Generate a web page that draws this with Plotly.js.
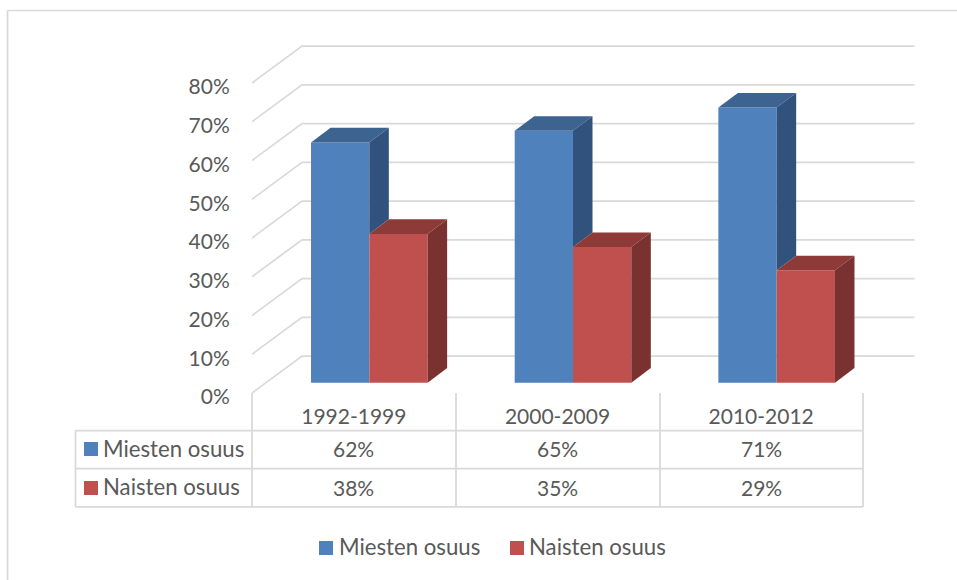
<!DOCTYPE html>
<html>
<head>
<meta charset="utf-8">
<script src="https://cdn.plot.ly/plotly-3.0.1.min.js"></script>
<style>html,body{margin:0;padding:0;background:#fff;overflow:hidden}</style>
</head>
<body>
<div id="chart" style="width:957px;height:580px"></div>
<script>
// ---- data ----
const categories = ['1992-1999', '2000-2009', '2010-2012'];
const seriesNames = ['Miesten osuus', 'Naisten osuus'];
const miesten = [62, 65, 71];
const naisten = [38.4, 35, 29];
const yTicks = [0, 10, 20, 30, 40, 50, 60, 70, 80];

// ---- styles ----
const BLUE = '#4F81BD', BLUE_SIDE = '#31527C', BLUE_TOP = '#3D6390';
const RED = '#C0504D', RED_SIDE = '#7A3230', RED_TOP = '#8E3A38';
const GRID = '#D9D9D9', TEXT = '#595959';
const FONT = {family: 'Lato, "Open Sans", sans-serif', size: 21, color: TEXT};
const NAME_FONT = {family: 'Lato, "Open Sans", sans-serif', size: 22.2, color: TEXT};

// ---- geometry (pixel frame of the plot area) ----
const L = 252, R = 917, T = 40, B = 393, W = 957, H = 580;
const pxPerCat = 203.67, pxPerPct = 3.875;
const cx = v => v / pxPerCat, cy = v => v / pxPerPct;
const xMax = (R - L) / pxPerCat, yMax = (B - T) / pxPerPct;
const px = x => (x - L) / (R - L), py = y => 1 - (y - T) / (B - T);

const wallX = cx(50), wallY = cy(37);       // back wall offset
const depthX = cx(19.5), depthY = cy(14.7); // bar depth
const barW = cx(58.3), barShiftX = cx(15.5), barLift = cy(10.3);

const leftOf = i => i + 0.5 + barShiftX - barW;
const midOf = i => i + 0.5 + barShiftX;
const rightOf = i => i + 0.5 + barShiftX + barW;

// ---- front faces: real bars ----
const frontBar = (name, vals, xFn, color) => ({
  type: 'bar', name, x: vals.map((_, i) => xFn(i)), y: vals,
  base: vals.map(() => barLift), width: vals.map(() => barW),
  marker: {color, line: {width: 0}}, showlegend: false,
  hovertemplate: name + ': %{y}%<extra></extra>'
});

// ---- side and top faces: polygons computed from the values ----
const poly = (xs, ys, color) => ({
  type: 'scatter', mode: 'lines', x: xs, y: ys, fill: 'toself', fillcolor: color,
  line: {width: 0, color}, hoverinfo: 'skip', showlegend: false
});
const faces = [];
categories.forEach((_, i) => {
  const m = miesten[i] + barLift, n = naisten[i] + barLift;
  const xl = leftOf(i), xm = midOf(i), xr = rightOf(i);
  faces.push(poly([xl, xl + depthX, xm + depthX, xm, xl], [m, m + depthY, m + depthY, m, m], BLUE_TOP));
  faces.push(poly([xm, xm + depthX, xm + depthX, xm, xm], [m, m + depthY, n + depthY, n, m], BLUE_SIDE));
  faces.push(poly([xm, xm + depthX, xr + depthX, xr, xm], [n, n + depthY, n + depthY, n, n], RED_TOP));
  faces.push(poly([xr, xr + depthX, xr + depthX, xr, xr], [n, n + depthY, barLift + depthY, barLift, n], RED_SIDE));
});

// ---- layout shapes ----
const shapes = [];
const line = (x0, y0, x1, y1, w) => shapes.push({
  type: 'line', xref: 'paper', yref: 'paper', x0: px(x0), y0: py(y0), x1: px(x1), y1: py(y1),
  line: {color: GRID, width: w || 1.75}, layer: 'below'
});
// outer frame
line(7.5, 10.5, W, 10.5, 1.5);
line(7.5, 10.5, 7.5, H, 1.75);
// walls / gridlines
yTicks.forEach(t => shapes.push({
  type: 'path', xref: 'x', yref: 'y', layer: 'below',
  path: `M 0 ${t} L ${wallX} ${t + wallY} L ${xMax - cx(2.5)} ${t + wallY}`,
  line: {color: GRID, width: 1.75}
}));
// data table
[252, 456, 660, 863].forEach(x => line(x, 393, x, 507));
[[75.5, 430.5], [75.5, 468.5], [75.5, 506.8]].forEach(([x, y]) => line(x, y, 863, y));
line(75.5, 430.5, 75.5, 506.8);

const swatch = (x, y, color) => shapes.push({
  type: 'rect', xref: 'paper', yref: 'paper', layer: 'above',
  x0: px(x), x1: px(x + 14), y0: py(y), y1: py(y + 14), fillcolor: color, line: {width: 0}
});
swatch(84, 442, BLUE); swatch(84, 481, RED);
swatch(319, 541, BLUE); swatch(510, 541, RED);

// ---- annotations: table and legend text ----
const annotations = [];
const note = (text, xref, x, y, xanchor, font) => annotations.push({
  text, xref, x, yref: 'paper', y: py(y), xanchor, yanchor: 'middle',
  showarrow: false, font: font || FONT, borderpad: 0
});
[miesten, naisten].forEach((vals, r) => {
  const rowY = [449, 487][r];
  note(seriesNames[r], 'paper', px(102), rowY - 0.5, 'left', NAME_FONT);
  vals.forEach((v, i) => note(Math.round(v) + '%', 'x', i + 0.5, rowY, 'center'));
});
note(seriesNames[0], 'paper', px(338), 546.5, 'left', NAME_FONT);
note(seriesNames[1], 'paper', px(527.5), 546.5, 'left', NAME_FONT);

const data = [
  frontBar(seriesNames[0], miesten, i => i + 0.5 + barShiftX - barW / 2, BLUE),
  frontBar(seriesNames[1], naisten, i => i + 0.5 + barShiftX + barW / 2, RED),
  ...faces
];

const layout = {
  width: W, height: H, showlegend: false,
  paper_bgcolor: '#fff', plot_bgcolor: 'rgba(0,0,0,0)',
  margin: {l: L, r: W - R, t: T, b: H - B, pad: 0},
  barmode: 'overlay',
  font: FONT,
  xaxis: {
    range: [0, xMax], showgrid: false, zeroline: false, showline: false,
    tickmode: 'array', tickvals: categories.map((_, i) => i + 0.5), ticktext: categories,
    ticks: 'outside', ticklen: 5, tickcolor: 'rgba(0,0,0,0)', tickfont: FONT
  },
  yaxis: {
    range: [0, yMax], showgrid: false, zeroline: false, showline: false,
    tickmode: 'array', tickvals: yTicks, ticktext: yTicks.map(t => t + '%'),
    ticks: 'outside', ticklen: 17, tickcolor: 'rgba(0,0,0,0)', tickfont: FONT,
    ticklabelshift: 4
  },
  shapes, annotations
};

Plotly.newPlot('chart', data, layout, {displayModeBar: false, staticPlot: true});
</script>
</body>
</html>
